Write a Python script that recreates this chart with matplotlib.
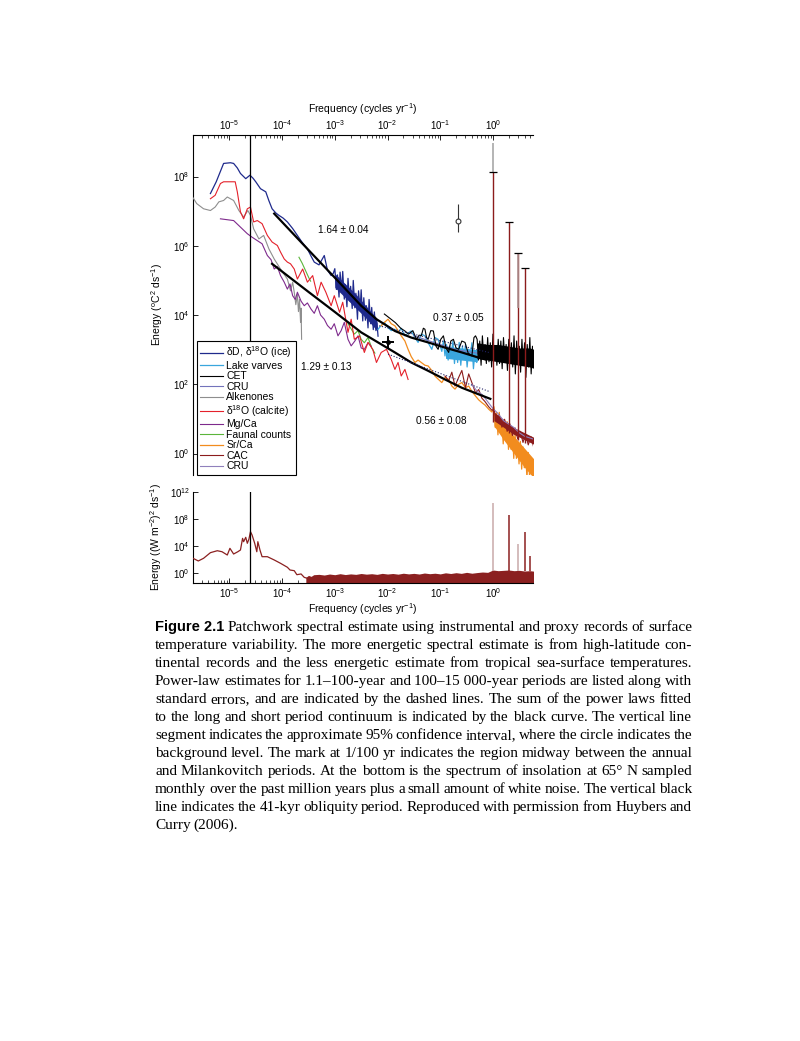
import numpy as np
import matplotlib
matplotlib.use('Agg')
import matplotlib.pyplot as plt
from matplotlib.ticker import LogLocator, NullLocator, FixedLocator

# ---- data (log10 frequency in cycles/yr, log10 energy) ----
ice_f = [-5.36, -5.25, -5.11, -4.98, -4.92, -4.85, -4.79, -4.69, -4.61, -4.55,
         -4.50, -4.41, -4.31, -4.25, -4.19, -4.12, -4.06, -3.98, -3.90, -3.80,
         -3.71, -3.62, -3.52, -3.45, -3.39, -3.30, -3.20, -3.14, -3.07, -3.03,
         -3.00, -2.97, -2.95, -2.92, -2.90, -2.87, -2.85, -2.82, -2.80, -2.77,
         -2.75, -2.72, -2.70, -2.67, -2.65, -2.62, -2.60, -2.57, -2.55, -2.52,
         -2.50, -2.47, -2.45, -2.42, -2.40, -2.37, -2.35, -2.32, -2.30, -2.27,
         -2.25, -2.22, -2.20, -2.18]
ice_e = [7.51, 7.85, 8.38, 8.40, 8.38, 8.25, 8.09, 7.94, 8.04, 7.95,
         7.85, 7.65, 7.56, 7.30, 7.07, 6.95, 6.88, 6.80, 6.69, 6.50,
         6.30, 6.10, 5.91, 5.70, 5.53, 5.45, 5.72, 5.30, 5.14, 5.20,
         5.34, 4.74, 5.16, 4.52, 5.24, 4.69, 5.26, 4.46, 4.88, 4.24,
         5.06, 4.41, 4.83, 4.19, 5.00, 4.21, 4.63, 3.88, 4.70, 4.16,
         4.73, 3.83, 4.50, 3.85, 4.27, 3.63, 4.45, 3.75, 4.22, 3.58,
         4.09, 3.55, 3.77, 3.39]
ice_band_f = [-3.00, -2.80, -2.60, -2.40, -2.20]
ice_band_lo = [4.80, 4.50, 4.20, 3.90, 3.55]
ice_band_hi = [5.20, 4.90, 4.60, 4.25, 3.90]

lake_f = [-2.18, -2.12, -2.06, -2.00, -1.93, -1.86, -1.80, -1.74, -1.67, -1.61,
          -1.55, -1.48, -1.42, -1.36, -1.29, -1.23, -1.16, -1.10, -1.04, -0.97,
          -0.94, -0.91, -0.88, -0.85, -0.82, -0.79, -0.76, -0.73, -0.70, -0.67,
          -0.64, -0.61, -0.58, -0.55, -0.52, -0.49, -0.46, -0.43, -0.40, -0.37,
          -0.34, -0.31, -0.28]
lake_e = [3.59, 3.70, 3.79, 3.65, 3.55, 3.59, 3.50, 3.62, 3.40, 3.48,
          3.54, 3.35, 3.21, 3.45, 3.40, 3.20, 3.01, 3.35, 3.30, 2.95,
          3.25, 2.82, 3.15, 2.70, 3.11, 2.85, 3.25, 2.60, 3.05, 2.63,
          3.21, 2.55, 3.10, 2.72, 3.15, 2.50, 3.01, 2.75, 3.20, 2.45,
          2.95, 2.63, 2.80]
lake_band_f = [-0.90, -0.60, -0.30]
lake_band_lo = [2.75, 2.70, 2.65]
lake_band_hi = [3.10, 3.05, 3.00]

cet_f = [-2.06, -1.95, -1.85, -1.75, -1.67, -1.60, -1.52, -1.45, -1.40, -1.36,
         -1.32, -1.29, -1.26, -1.23, -1.18, -1.13, -1.08, -1.04, -0.99, -0.94,
         -0.89, -0.84, -0.80, -0.75, -0.70, -0.65, -0.59, -0.53, -0.47, -0.40,
         -0.36, -0.33,
         -0.300, -0.275, -0.250, -0.225, -0.200, -0.175, -0.150, -0.125, -0.100, -0.075,
         -0.050, -0.025, 0.000, 0.025, 0.050, 0.075, 0.100, 0.125, 0.150, 0.175,
         0.200, 0.225, 0.250, 0.275, 0.300, 0.325, 0.350, 0.375, 0.400, 0.425,
         0.450, 0.475, 0.500, 0.525, 0.550, 0.575, 0.600, 0.625, 0.650, 0.675,
         0.700, 0.725, 0.750, 0.775, 0.800]
cet_e = [4.03, 3.90, 3.78, 3.62, 3.54, 3.45, 3.55, 3.30, 3.42, 3.40,
         3.62, 3.59, 3.35, 3.30, 3.55, 3.54, 3.10, 3.01, 3.30, 3.40,
         3.05, 2.92, 3.25, 3.30, 3.05, 3.01, 3.25, 3.21, 2.90, 2.82,
         3.35, 3.40,
         3.30, 2.70, 3.25, 2.55, 3.40, 2.80, 3.15, 2.60, 3.35, 2.65,
         3.20, 2.50, 3.45, 2.75, 3.10, 2.55, 3.30, 2.60, 3.25, 2.45,
         3.35, 2.70, 3.15, 2.40, 3.30, 2.65, 3.20, 2.50, 3.40, 2.30,
         3.25, 2.60, 3.10, 2.35, 3.30, 2.55, 3.20, 2.20, 3.15, 2.50,
         3.35, 2.30, 3.10, 2.40, 3.20]
cet_band_f = [-0.30, -0.10, 0.10, 0.30, 0.50, 0.70, 0.80]
cet_band_lo = [2.75, 2.70, 2.65, 2.60, 2.55, 2.50, 2.45]
cet_band_hi = [3.20, 3.15, 3.15, 3.10, 3.05, 3.05, 3.00]

cru1_f = [-1.50, -1.30, -1.10, -0.90, -0.70, -0.50, -0.30, -0.10, 0.10, 0.30, 0.50, 0.70, 0.80]
cru1_e = [3.40, 3.30, 3.20, 3.10, 3.00, 2.95, 2.90, 2.85, 2.80, 2.78, 2.75, 2.72, 2.70]

alk_f = [-5.74, -5.62, -5.49, -5.36, -5.27, -5.20, -5.11, -5.04, -4.98, -4.92,
         -4.82, -4.73, -4.65, -4.60, -4.54, -4.44, -4.35, -4.25, -4.15, -4.03,
         -3.90, -3.84, -3.80, -3.77, -3.74, -3.71, -3.69, -3.67, -3.65, -3.64,
         -3.63]
alk_e = [7.51, 7.22, 7.07, 7.02, 7.12, 7.27, 7.31, 7.41, 7.36, 7.31,
         7.02, 6.83, 7.02, 6.88, 6.49, 6.20, 6.30, 5.91, 5.62, 5.33,
         5.04, 4.70, 4.95, 4.66, 4.30, 4.60, 4.10, 4.45, 3.79, 4.20,
         3.30]

calc_f = [-5.36, -5.27, -5.17, -5.11, -4.89, -4.85, -4.79, -4.73, -4.66, -4.60,
          -4.54, -4.47, -4.38, -4.28, -4.19, -4.09, -4.03, -3.96, -3.90, -3.84,
          -3.77, -3.71, -3.61, -3.52, -3.42, -3.33, -3.26, -3.17, -3.07, -3.01,
          -2.91, -2.85, -2.75, -2.69, -2.63, -2.53, -2.44, -2.37, -2.28, -2.21,
          -2.12, -2.02, -1.93, -1.86, -1.80, -1.74, -1.67, -1.61]
calc_e = [7.36, 7.46, 7.80, 7.85, 7.85, 7.56, 6.98, 6.78, 7.07, 7.12,
          6.69, 6.73, 6.64, 6.30, 6.11, 6.01, 5.82, 5.62, 5.53, 5.48,
          5.33, 5.04, 5.33, 4.95, 5.14, 4.56, 4.95, 4.66, 4.27, 4.56,
          4.08, 4.37, 3.50, 3.88, 3.30, 3.40, 2.92, 3.21, 3.01, 2.63,
          2.92, 3.01, 2.72, 2.43, 2.63, 2.24, 2.43, 2.14]

mg_f = [-5.17, -4.92, -4.79, -4.66, -4.57, -4.47, -4.38, -4.28, -4.21, -4.15,
        -4.09, -4.03, -3.96, -3.90, -3.85, -3.80, -3.75, -3.71, -3.64, -3.58,
        -3.52, -3.45, -3.39, -3.33, -3.27, -3.20, -3.14, -3.07, -3.01, -2.94,
        -2.88, -2.82, -2.75, -2.69, -2.62, -2.56, -2.50, -2.44, -2.37, -2.31]
mg_e = [6.78, 6.73, 6.54, 6.35, 6.25, 6.15, 6.06, 5.72, 5.60, 5.33,
        5.40, 5.14, 4.95, 4.75, 4.90, 4.56, 4.45, 4.66, 4.40, 4.27,
        4.35, 4.17, 4.05, 4.27, 4.00, 3.88, 3.70, 3.59, 3.75, 3.40,
        3.55, 3.79, 3.30, 3.11, 3.25, 3.40, 3.05, 3.01, 3.20, 3.10]

faun_f1 = [-3.68, -3.62, -3.56, -3.50, -3.46]
faun_e1 = [5.67, 5.50, 5.30, 5.10, 4.98]
faun_f2 = [-2.75, -2.69, -2.63, -2.56, -2.50, -2.44, -2.37, -2.30, -2.24]
faun_e2 = [3.75, 3.60, 3.45, 3.55, 3.30, 3.20, 3.35, 3.05, 2.90]

sr_f = [-2.12, -2.05, -1.99, -1.93, -1.86, -1.80, -1.74, -1.67, -1.61, -1.55,
        -1.48, -1.42, -1.36, -1.29, -1.23, -1.16, -1.10, -1.04, -0.97, -0.91,
        -0.84, -0.78, -0.72, -0.65, -0.59, -0.52, -0.46, -0.40, -0.33, -0.27,
        -0.21, -0.15, -0.08, -0.02,
        0.020, 0.045, 0.070, 0.095, 0.120, 0.145, 0.170, 0.195, 0.220, 0.245,
        0.270, 0.295, 0.320, 0.345, 0.370, 0.395, 0.420, 0.445, 0.470, 0.495,
        0.520, 0.545, 0.570, 0.595, 0.620, 0.645, 0.670, 0.695, 0.720, 0.745,
        0.770, 0.795]
sr_e = [3.69, 3.80, 3.88, 3.75, 3.69, 3.55, 3.40, 3.25, 3.01, 2.80,
        2.63, 2.70, 2.63, 2.55, 2.53, 2.40, 2.24, 2.15, 2.05, 2.20,
        2.14, 1.95, 1.86, 2.00, 2.05, 1.90, 1.95, 1.80, 1.66, 1.55,
        1.47, 1.40, 1.28, 1.20,
        1.35, 0.75, 1.19, 0.54, 1.19, 0.59, 0.93, 0.28, 0.98, 0.43,
        0.92, 0.12, 0.67, 0.12, 0.61, -0.14, 0.56, -0.14, 0.35, -0.30,
        0.35, -0.45, 0.19, -0.41, 0.04, -0.71, 0.03, -0.67, -0.22, -0.87,
        -0.23, -0.83]
sr_band_f = [0.02, 0.20, 0.40, 0.60, 0.80]
sr_band_lo = [0.80, 0.40, 0.00, -0.40, -0.75]
sr_band_hi = [1.20, 0.85, 0.50, 0.15, -0.20]

cac_f = [-0.91, -0.84, -0.78, -0.72, -0.65, -0.59, -0.52, -0.46, -0.40, -0.33,
         -0.27, -0.21, -0.15, -0.08, -0.02,
         0.02, 0.07, 0.12, 0.17, 0.22, 0.27, 0.32, 0.37, 0.42, 0.47,
         0.52, 0.57, 0.62, 0.67, 0.72, 0.77, 0.80]
cac_e = [2.24, 2.10, 2.35, 1.95, 2.20, 2.40, 1.90, 2.30, 2.05, 1.75,
         1.85, 1.60, 1.50, 1.35, 1.25,
         1.28, 0.92, 1.12, 0.76, 0.99, 0.64, 0.86, 0.52, 0.74, 0.42,
         0.64, 0.32, 0.56, 0.25, 0.49, 0.20, 0.38]
cac_band_f = [0.02, 0.40, 0.80]
cac_band_lo = [0.95, 0.55, 0.25]
cac_band_hi = [1.20, 0.75, 0.45]

cru2_f = [-0.40, -0.30, -0.20, -0.10, 0.00, 0.10, 0.20, 0.30, 0.40, 0.50, 0.60, 0.70, 0.80]
cru2_e = [2.00, 1.80, 1.70, 1.50, 1.30, 1.15, 0.95, 0.85, 0.75, 0.60, 0.50, 0.45, 0.40]

# fitted curves (sum of power laws) and dashed power laws
fit_hi_f = [-4.15, -3.50, -3.00, -2.50, -2.21, -2.00, -1.86, -1.55, -1.23, -0.91, -0.59, -0.27, -0.15]
fit_hi_e = [6.93, 5.88, 5.08, 4.27, 3.88, 3.68, 3.54, 3.35, 3.21, 3.06, 2.92, 2.77, 2.72]
fit_lo_f = [-4.19, -3.50, -3.00, -2.50, -2.18, -1.86, -1.55, -1.23, -0.91, -0.59, -0.27, -0.05]
fit_lo_e = [5.48, 4.67, 4.09, 3.50, 3.21, 2.92, 2.63, 2.39, 2.14, 1.90, 1.71, 1.58]
dash_hi_f = [-2.16, -0.08]
dash_hi_e = [3.69, 2.92]
dash_lo_f = [-1.99, -0.05]
dash_lo_e = [2.87, 1.78]

slope_labels = ['1.64 ± 0.04', '1.29 ± 0.13', '0.37 ± 0.05', '0.56 ± 0.08']
slope_f = [-2.84, -3.16, -0.66, -0.98]
slope_e = [6.46, 2.51, 3.91, 0.95]

# annual cycle and harmonics (cycles/yr)
harm = [1, 2, 3, 4]
harm_top = [8.14, 6.69, 5.79, 5.36]
harm_base = [0.90, 0.60, 0.40, 0.30]

# background level with 95% interval, and the 1/100 yr mark
bg_f, bg_e, bg_lo, bg_hi = -0.67, 6.73, 6.41, 7.22
mid_f, mid_e = -1.99, 3.21

obliquity = 1 / 41000.0

# insolation spectrum (bottom panel)
ins_f = [-5.69, -5.59, -5.49, -5.36, -5.23, -5.14, -5.04, -4.99, -4.92, -4.84,
         -4.79, -4.75, -4.73, -4.69, -4.66, -4.63, -4.60, -4.57, -4.52, -4.48,
         -4.46, -4.42, -4.38, -4.28, -4.15, -4.03, -3.90, -3.85, -3.77, -3.72,
         -3.64, -3.58, -3.52]
ins_e = [2.15, 1.75, 2.15, 2.99, 3.28, 3.13, 2.64, 3.64, 2.79, 3.13,
         3.39, 5.13, 4.63, 5.28, 4.39, 5.00, 6.12, 5.63, 4.39, 3.13,
         4.63, 3.39, 2.39, 2.39, 1.90, 1.40, 0.81, 0.40, 0.30, -0.30,
         -0.19, -0.70, -0.84]
floor_f = [-3.55, -3.50, -3.45, -3.40, -3.30, -3.20, -3.10, -3.00, -2.90, -2.80,
           -2.70, -2.60, -2.50, -2.40, -2.30, -2.20, -2.10, -2.00, -1.90, -1.80,
           -1.70, -1.60, -1.50, -1.40, -1.30, -1.20, -1.10, -1.00, -0.90, -0.80,
           -0.70, -0.60, -0.50, -0.40, -0.30, -0.20, -0.10, 0.00, 0.10, 0.20,
           0.30, 0.40, 0.50, 0.60, 0.70, 0.80]
floor_top = [-0.70, -0.40, -0.55, -0.30, -0.25, -0.35, -0.20, -0.30, -0.15, -0.28,
             -0.18, -0.25, -0.12, -0.22, -0.15, -0.25, -0.10, -0.20, -0.12, -0.22,
             -0.08, -0.18, -0.10, -0.20, -0.05, -0.15, -0.08, -0.18, -0.02, -0.12,
             0.00, -0.10, 0.05, -0.08, 0.02, 0.10, 0.05, 0.40, 0.30, 0.35,
             0.40, 0.30, 0.35, 0.25, 0.30, 0.20]
ins_harm = [1, 2, 3, 4, 5]
ins_harm_top = [10.36, 8.60, 4.28, 6.12, 2.49]
ins_harm_light = [True, False, True, False, False]

caption = [
    "Figure 2.1 Patchwork spectral estimate using instrumental and proxy records of surface",
    "temperature variability. The more energetic spectral estimate is from high-latitude con-",
    "tinental records and the less energetic estimate from tropical sea-surface temperatures.",
    "Power-law estimates for 1.1\u2013100-year and 100\u201315\u00a0000-year periods are listed along with",
    "standard errors, and are indicated by the dashed lines. The sum of the power laws fitted",
    "to the long and short period continuum is indicated by the black curve. The vertical line",
    "segment indicates the approximate 95% confidence interval, where the circle indicates the",
    "background level. The mark at 1/100 yr indicates the region midway between the annual",
    "and Milankovitch periods. At the bottom is the spectrum of insolation at 65\u00b0 N sampled",
    "monthly over the past million years plus a small amount of white noise. The vertical black",
    "line indicates the 41-kyr obliquity period. Reproduced with permission from Huybers and",
    "Curry (2006).",
]


def p(a):
    return 10.0 ** np.asarray(a, dtype=float)


plt.rcParams.update({
    'font.family': ['Liberation Sans', 'DejaVu Sans'],
    'font.size': 7,
    'mathtext.fontset': 'custom',
    'mathtext.rm': 'Liberation Sans',
    'mathtext.it': 'Liberation Sans:italic',
    'mathtext.bf': 'Liberation Sans:bold',
    'xtick.direction': 'in',
    'ytick.direction': 'in',
    'axes.linewidth': 0.8,
})

W, H = 800, 1041
fig = plt.figure(figsize=(W / 100, H / 100), dpi=100)

colors = {
    'ice': '#1f2a8c', 'lake': '#3aa6dd', 'cet': 'black', 'cru1': '#7373bb',
    'alk': '#8e8e8e', 'calc': '#e4212b', 'mg': '#7e2a8c', 'faun': '#5bb53a',
    'sr': '#f28c1e', 'cac': '#8c1c1c', 'cru2': '#9080bc',
}

# ---- top panel ----
ax = fig.add_axes([192.5 / W, 1 - 475 / H, (533 - 192.5) / W, (475 - 134.7) / H])
ax.set_xscale('log')
ax.set_yscale('log')

lw = 0.8
h_faun, = ax.plot(p(faun_f1), p(faun_e1), color=colors['faun'], lw=lw, zorder=2)
ax.plot(p(faun_f2), p(faun_e2), color=colors['faun'], lw=lw, zorder=2)
h_alk, = ax.plot(p(alk_f), p(alk_e), color=colors['alk'], lw=lw, zorder=3)
h_mg, = ax.plot(p(mg_f), p(mg_e), color=colors['mg'], lw=lw, zorder=3)
h_calc, = ax.plot(p(calc_f), p(calc_e), color=colors['calc'], lw=lw, zorder=4)
ax.fill_between(p(ice_band_f), p(ice_band_lo), p(ice_band_hi), color=colors['ice'], lw=0, zorder=4)
h_ice, = ax.plot(p(ice_f), p(ice_e), color=colors['ice'], lw=0.9, zorder=4)
ax.fill_between(p(lake_band_f), p(lake_band_lo), p(lake_band_hi), color=colors['lake'], lw=0, zorder=4)
h_lake, = ax.plot(p(lake_f), p(lake_e), color=colors['lake'], lw=0.9, zorder=4)
h_cru1, = ax.plot(p(cru1_f), p(cru1_e), color=colors['cru1'], lw=lw, zorder=4)
ax.fill_between(p(cet_band_f), p(cet_band_lo), p(cet_band_hi), color=colors['cet'], lw=0, zorder=5)
h_cet, = ax.plot(p(cet_f), p(cet_e), color=colors['cet'], lw=0.8, zorder=5)
ax.fill_between(p(sr_band_f), p(sr_band_lo), p(sr_band_hi), color=colors['sr'], lw=0, zorder=5)
h_sr, = ax.plot(p(sr_f), p(sr_e), color=colors['sr'], lw=0.9, zorder=5)
ax.fill_between(p(cac_band_f), p(cac_band_lo), p(cac_band_hi), color=colors['cac'], lw=0, zorder=6)
h_cac, = ax.plot(p(cac_f), p(cac_e), color=colors['cac'], lw=lw, zorder=6)
h_cru2, = ax.plot(p(cru2_f), p(cru2_e), color=colors['cru2'], lw=lw, zorder=6)

# annual peaks
ax.vlines(harm, p(harm_base), p(harm_top), color=colors['cac'], lw=1.0, zorder=6)
ax.vlines([harm[0]], p(harm_top[0]), p(8.96), color='#a8a8a8', lw=1.2, zorder=6)
ax.vlines([harm[2]], p(4.2), p(harm_top[2]), color='#b09494', lw=1.2, zorder=6)
ax.plot(harm, p(harm_top), ls='none', marker='_', ms=6, mew=0.9, color='black', zorder=7)

# fits
ax.plot(p(fit_hi_f), p(fit_hi_e), color='black', lw=1.6, zorder=8)
ax.plot(p(fit_lo_f), p(fit_lo_e), color='black', lw=1.6, zorder=8)
ax.plot(p(dash_hi_f), p(dash_hi_e), color='#222266', lw=0.8, ls=':', zorder=8)
ax.plot(p(dash_lo_f), p(dash_lo_e), color='#222266', lw=0.8, ls=':', zorder=8)

for lab, fx, ey in zip(slope_labels, slope_f, slope_e):
    ax.text(10 ** fx, 10 ** ey, lab, ha='center', va='center', fontsize=7.3, zorder=9)

# background circle with interval, mid mark
ax.vlines([10 ** bg_f], 10 ** bg_lo, 10 ** bg_hi, color='#333333', lw=0.8, zorder=9)
ax.plot([10 ** bg_f], [10 ** bg_e], marker='o', ms=3.5, mfc='white', mec='#333333', mew=0.8, zorder=10)
ax.plot([10 ** mid_f], [10 ** mid_e], marker='+', ms=8, mew=1.4, color='black', zorder=10)
ax.plot([10 ** mid_f], [10 ** mid_e], marker='o', ms=2.5, color='black', zorder=10)

ax.axvline(obliquity, color='black', lw=0.9, zorder=7)

ax.set_xlim(10 ** -5.70, 10 ** 0.76)
ax.set_ylim(10 ** -0.62, 10 ** 9.21)
ax.xaxis.set_ticks_position('top')
ax.xaxis.set_label_position('top')
ax.spines['bottom'].set_visible(False)
ax.spines['right'].set_visible(False)
ax.xaxis.set_major_locator(LogLocator(base=10, numticks=20))
ax.xaxis.set_minor_locator(LogLocator(base=10, subs=np.arange(2, 10), numticks=20))
ax.yaxis.set_major_locator(FixedLocator(p([0, 2, 4, 6, 8])))
ax.yaxis.set_minor_locator(NullLocator())
ax.tick_params(which='major', length=3.5, width=0.6, labelsize=7, pad=2)
ax.tick_params(which='minor', length=2, width=0.5)
ax.set_xlabel(r'Frequency (cycles yr$^{-1}$)', fontsize=7.5, labelpad=4)
ax.set_ylabel(r'Energy ($^{\mathregular{o}}$C$^2$ ds$^{-1}$)', fontsize=7.5, labelpad=6)

handles = [h_ice, h_lake, h_cet, h_cru1, h_alk, h_calc, h_mg, h_faun, h_sr, h_cac, h_cru2]
labels = ['δD, δ$^{18}$O (ice)', 'Lake varves', 'CET', 'CRU', 'Alkenones',
          'δ$^{18}$O (calcite)', 'Mg/Ca', 'Faunal counts', 'Sr/Ca', 'CAC', 'CRU']
leg = ax.legend(handles, labels, loc='lower left', bbox_to_anchor=(0.012, 0.0),
                borderaxespad=0, fontsize=7.5, frameon=True, fancybox=False,
                edgecolor='black', framealpha=1, handlelength=2.2,
                handletextpad=0.3, labelspacing=0.05, borderpad=0.35)
leg.get_frame().set_linewidth(0.8)
leg.set_zorder(20)

# ---- bottom panel ----
ax2 = fig.add_axes([192.5 / W, 1 - 583 / H, (533 - 192.5) / W, (583 - 492) / H])
ax2.set_xscale('log')
ax2.set_yscale('log')
ins_col = '#8b2020'
ax2.fill_between(p(floor_f), p(-3.0), p(floor_top), color=ins_col, lw=0, zorder=2)
ax2.plot(p(ins_f), p(ins_e), color=ins_col, lw=0.9, zorder=3)
for fq, top, light in zip(ins_harm, ins_harm_top, ins_harm_light):
    ax2.vlines([fq], p(0.2), p(top), color='#c9a9a9' if light else ins_col, lw=1.1, zorder=3)
ax2.axvline(obliquity, color='black', lw=0.9, zorder=4)
ax2.set_xlim(10 ** -5.70, 10 ** 0.76)
ax2.set_ylim(10 ** -1.54, 10 ** 12.05)
ax2.spines['top'].set_visible(False)
ax2.spines['right'].set_visible(False)
ax2.xaxis.set_major_locator(LogLocator(base=10, numticks=20))
ax2.xaxis.set_minor_locator(LogLocator(base=10, subs=np.arange(2, 10), numticks=20))
ax2.yaxis.set_major_locator(FixedLocator(p([0, 4, 8, 12])))
ax2.yaxis.set_minor_locator(NullLocator())
ax2.tick_params(which='major', length=3.5, width=0.6, labelsize=7, pad=2)
ax2.tick_params(which='minor', length=2, width=0.5)
ax2.set_xlabel(r'Frequency (cycles yr$^{-1}$)', fontsize=7.5, labelpad=1.5)
ax2.set_ylabel(r'Energy ((W m$^{-2}$)$^2$ ds$^{-1}$)', fontsize=7.5, labelpad=4)

# ---- justified caption ----
fig.canvas.draw()
renderer = fig.canvas.get_renderer()
x_left, x_right = 155.0, 692.0
serif = dict(family=['Liberation Serif', 'DejaVu Serif'], fontsize=11.0)
for i, line in enumerate(caption):
    yb = 1 - (631 + i * 18.0) / H
    words = line.split(' ')
    artists = []
    if i == 0:
        artists.append(fig.text(0, yb, words[0] + ' ' + words[1], va='baseline',
                                fontsize=10.5, fontweight='bold',
                                family=['Liberation Sans', 'DejaVu Sans']))
        words = words[2:]
    for wd in words:
        artists.append(fig.text(0, yb, wd, va='baseline', **serif))
    widths = [a.get_window_extent(renderer).width for a in artists]
    if i == len(caption) - 1:
        gap = 3.0
    else:
        gap = max(1.5, (x_right - x_left - sum(widths)) / (len(artists) - 1))
    x = x_left
    for a, w in zip(artists, widths):
        a.set_x(x / W)
        x += w + gap

fig.savefig('out.png', dpi=100)
